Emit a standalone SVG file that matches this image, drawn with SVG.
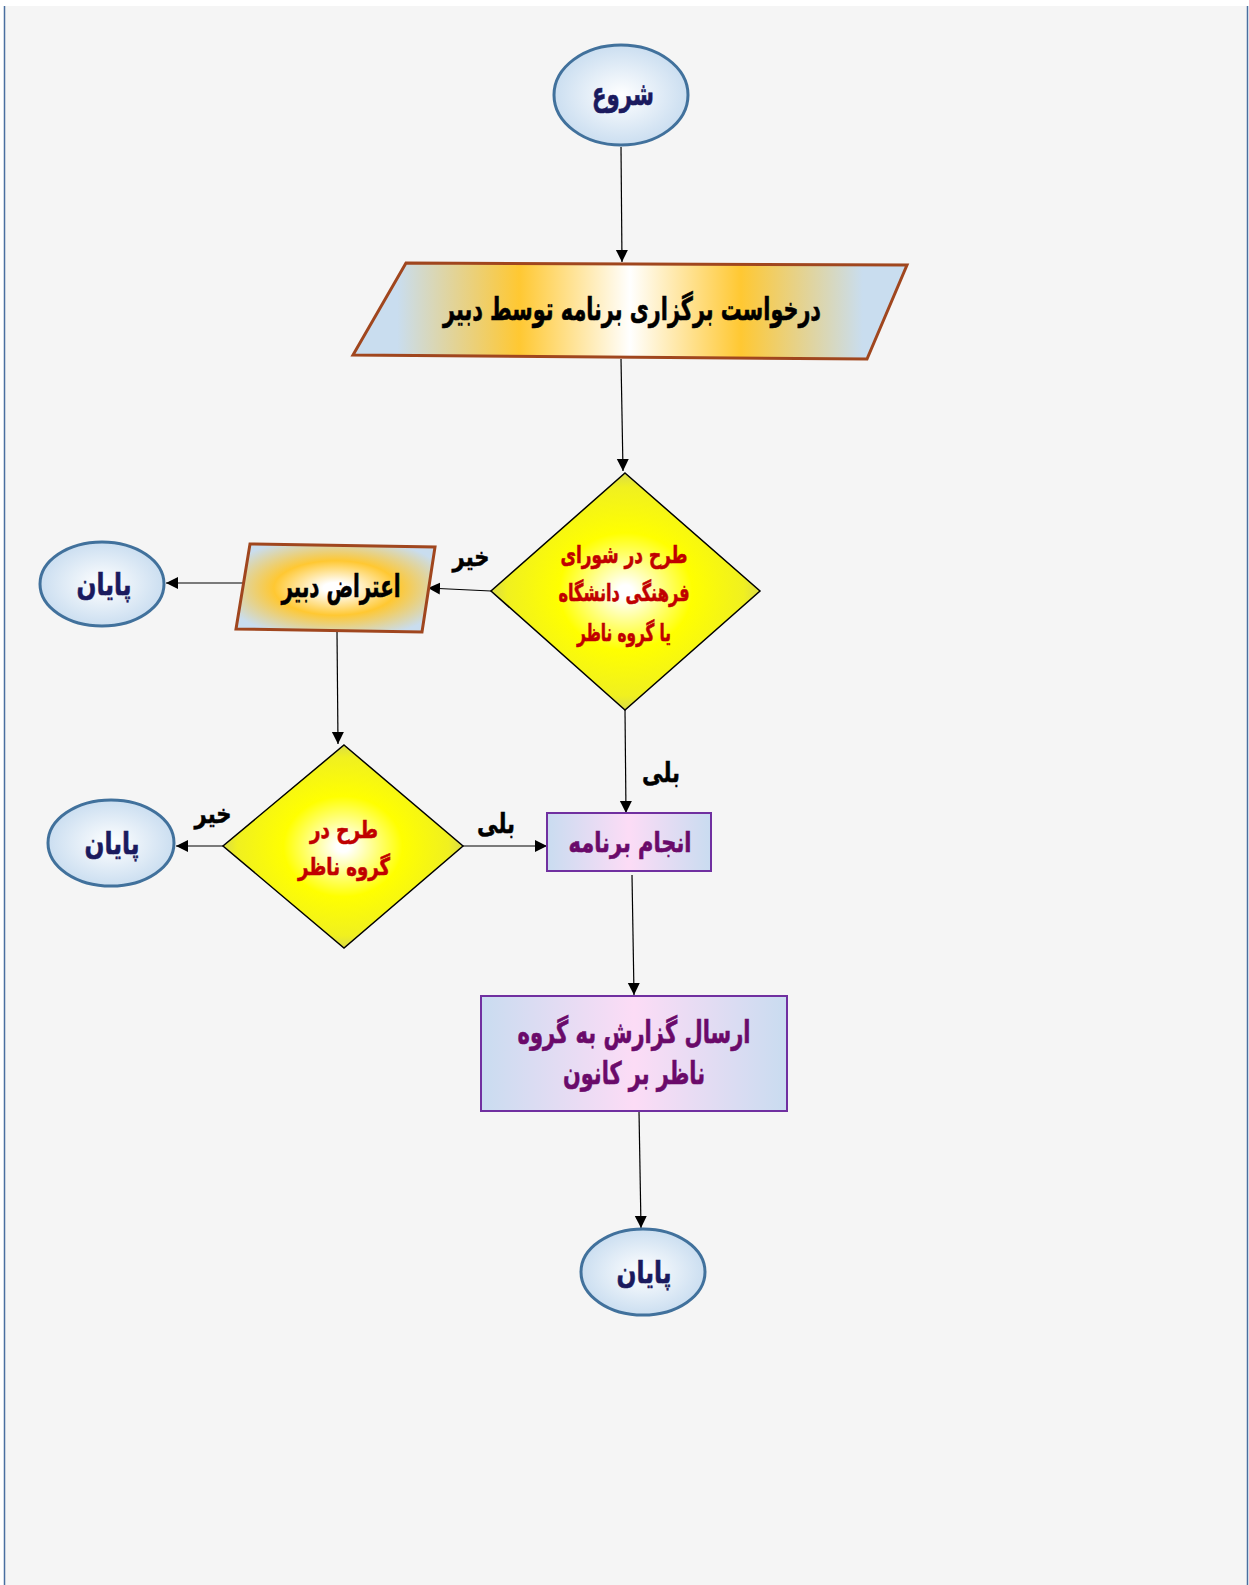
<svg xmlns="http://www.w3.org/2000/svg" width="1249" height="1585" viewBox="0 0 1249 1585">
<defs>
<style>
.t{font-family:"DejaVu Sans",sans-serif;font-weight:bold;text-anchor:middle;stroke-width:0.6;}
.lbl{font-family:"DejaVu Sans",sans-serif;font-weight:bold;text-anchor:middle;font-size:27px;fill:#000;stroke:#000;stroke-width:0.5;}
.term{stroke:#41719c;stroke-width:3;fill:url(#gTerm);}
.io{stroke:#a0461e;stroke-width:3;}
.dec{stroke:#000;stroke-width:1.5;fill:url(#gDec);}
.proc{stroke:#7030a0;stroke-width:2;fill:url(#gProc);}
.c{stroke:#000;stroke-width:1.2;fill:none;marker-end:url(#ah);}
</style>
<marker id="ah" markerWidth="14" markerHeight="14" refX="12" refY="6" orient="auto" markerUnits="userSpaceOnUse">
<path d="M0,0 L12,6 L0,12 Z" fill="#000"/>
</marker>
<radialGradient id="gTerm" cx="50%" cy="50%" r="55%">
<stop offset="0" stop-color="#ffffff"/>
<stop offset="1" stop-color="#c6dbef"/>
</radialGradient>
<linearGradient id="gIo1" x1="0" y1="0" x2="1" y2="0">
<stop offset="0.08" stop-color="#c9ddef"/>
<stop offset="0.3" stop-color="#ffc832"/>
<stop offset="0.5" stop-color="#ffffff"/>
<stop offset="0.7" stop-color="#ffc832"/>
<stop offset="0.92" stop-color="#c9ddef"/>
</linearGradient>
<radialGradient id="gIo2" cx="50%" cy="50%" r="62%">
<stop offset="0.1" stop-color="#ffffff"/>
<stop offset="0.5" stop-color="#ffc832"/>
<stop offset="0.95" stop-color="#c9ddef"/>
</radialGradient>
<radialGradient id="gDec" cx="50%" cy="50%" r="55%">
<stop offset="0.05" stop-color="#ffffff"/>
<stop offset="0.45" stop-color="#ffff00"/>
<stop offset="0.8" stop-color="#f0f020"/>
<stop offset="1" stop-color="#c8cc6a"/>
</radialGradient>
<linearGradient id="gProc" x1="0" y1="0" x2="1" y2="0">
<stop offset="0" stop-color="#c9dcf0"/>
<stop offset="0.5" stop-color="#fcdcf6"/>
<stop offset="1" stop-color="#c9dcf0"/>
</linearGradient>
</defs>

<rect x="0" y="0" width="1249" height="1585" fill="#ffffff"/>
<rect x="4" y="6" width="1244" height="1579" fill="#f5f5f5"/>
<line x1="4.5" y1="6" x2="4.5" y2="1585" stroke="#4a6fa0" stroke-width="1.5"/>
<line x1="1247.5" y1="6" x2="1247.5" y2="1585" stroke="#4a6fa0" stroke-width="1.5"/>

<g id="connectors">
<line class="c" x1="621" y1="147" x2="622" y2="262"/>
<line class="c" x1="621" y1="359" x2="623" y2="471"/>
<line class="c" x1="491" y1="591" x2="428" y2="588"/>
<line class="c" x1="248" y1="583" x2="166" y2="583"/>
<line class="c" x1="337" y1="632" x2="338" y2="744"/>
<line class="c" x1="223" y1="846" x2="176" y2="846"/>
<line class="c" x1="463" y1="846" x2="547" y2="846"/>
<line class="c" x1="625" y1="710" x2="626" y2="813"/>
<line class="c" x1="632" y1="875" x2="634" y2="995"/>
<line class="c" x1="639" y1="1111" x2="641" y2="1228"/>
<text class="lbl" x="471" y="566" textLength="37" lengthAdjust="spacingAndGlyphs">خیر</text>
<text class="lbl" x="213" y="823" textLength="37" lengthAdjust="spacingAndGlyphs">خیر</text>
<text class="lbl" x="496" y="833" textLength="38" lengthAdjust="spacingAndGlyphs">بلی</text>
<text class="lbl" x="661" y="782" textLength="38" lengthAdjust="spacingAndGlyphs">بلی</text>
</g>

<g id="start">
<ellipse class="term" cx="621" cy="95" rx="67" ry="50"/>
<text class="t" x="623" y="105" font-size="32" fill="#1a1a5e" stroke="#1a1a5e" textLength="62" lengthAdjust="spacingAndGlyphs">شروع</text>
</g>

<g id="request">
<polygon class="io" fill="url(#gIo1)" points="406,263 907,265 867,359 353,355"/>
<text class="t" x="632" y="320" font-size="32" fill="#000" stroke="#000" textLength="378" lengthAdjust="spacingAndGlyphs">درخواست برگزاری برنامه توسط دبیر</text>
</g>

<g id="decision1">
<polygon class="dec" points="625,473 760,591 625,710 491,591"/>
<text class="t" x="624" y="563" font-size="24" fill="#c00000" stroke="#c00000" textLength="127" lengthAdjust="spacingAndGlyphs">طرح در شورای</text>
<text class="t" x="624" y="601" font-size="24" fill="#c00000" stroke="#c00000" textLength="131" lengthAdjust="spacingAndGlyphs">فرهنگی دانشگاه</text>
<text class="t" x="624" y="641" font-size="24" fill="#c00000" stroke="#c00000" textLength="94" lengthAdjust="spacingAndGlyphs">یا گروه ناظر</text>
</g>

<g id="objection">
<polygon class="io" fill="url(#gIo2)" points="250,544 435,547 422,632 236,629"/>
<text class="t" x="341" y="597" font-size="31" fill="#000" stroke="#000" textLength="119" lengthAdjust="spacingAndGlyphs">اعتراض دبیر</text>
</g>

<g id="end1">
<ellipse class="term" cx="102" cy="584" rx="62" ry="42"/>
<text class="t" x="104" y="595" font-size="30" fill="#1a1a5e" stroke="#1a1a5e" textLength="55" lengthAdjust="spacingAndGlyphs">پایان</text>
</g>

<g id="decision2">
<polygon class="dec" points="344,745 463,846 344,948 223,846"/>
<text class="t" x="344" y="838" font-size="24" fill="#c00000" stroke="#c00000" textLength="68" lengthAdjust="spacingAndGlyphs">طرح در</text>
<text class="t" x="344" y="875" font-size="24" fill="#c00000" stroke="#c00000" textLength="92" lengthAdjust="spacingAndGlyphs">گروه ناظر</text>
</g>

<g id="end2">
<ellipse class="term" cx="111" cy="843" rx="63" ry="43"/>
<text class="t" x="112" y="854" font-size="30" fill="#1a1a5e" stroke="#1a1a5e" textLength="55" lengthAdjust="spacingAndGlyphs">پایان</text>
</g>

<g id="perform">
<rect class="proc" x="547" y="813" width="164" height="58"/>
<text class="t" x="630" y="852" font-size="28" fill="#6a0a6a" stroke="#6a0a6a" textLength="123" lengthAdjust="spacingAndGlyphs">انجام برنامه</text>
</g>

<g id="report">
<rect class="proc" x="481" y="996" width="306" height="115"/>
<text class="t" x="634" y="1043" font-size="31" fill="#6a0a6a" stroke="#6a0a6a" textLength="233" lengthAdjust="spacingAndGlyphs">ارسال گزارش به گروه</text>
<text class="t" x="634" y="1084" font-size="31" fill="#6a0a6a" stroke="#6a0a6a" textLength="142" lengthAdjust="spacingAndGlyphs">ناظر بر کانون</text>
</g>

<g id="end3">
<ellipse class="term" cx="643" cy="1272" rx="62" ry="43"/>
<text class="t" x="644" y="1283" font-size="30" fill="#1a1a5e" stroke="#1a1a5e" textLength="55" lengthAdjust="spacingAndGlyphs">پایان</text>
</g>
</svg>
